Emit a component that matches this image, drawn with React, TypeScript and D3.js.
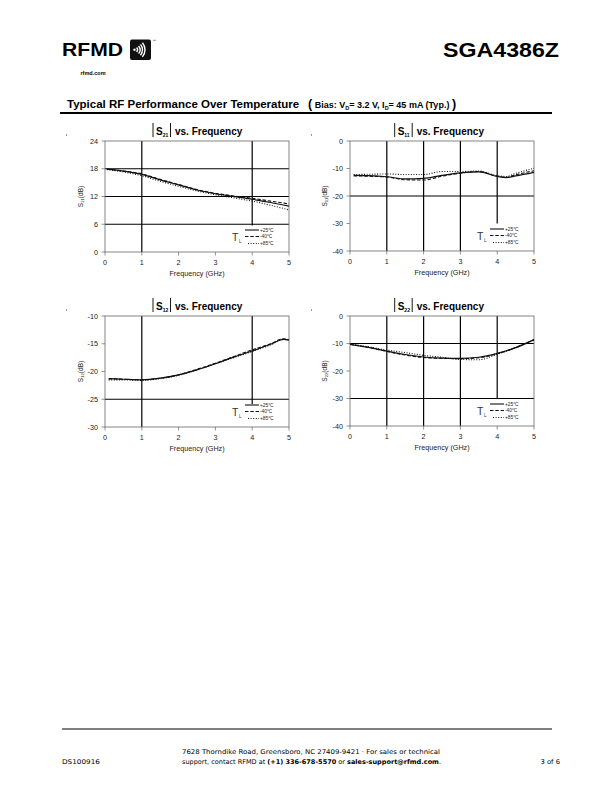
import React from "react";
import * as d3 from "d3";

// ---------- data ----------
const FREQ_S21 = [0.05, 0.5, 1, 1.5, 2, 2.5, 3, 3.5, 4, 4.5, 5];
const S21_P25 = [17.9, 17.5, 16.8, 15.6, 14.5, 13.4, 12.6, 12.0, 11.4, 10.7, 9.9];
const S21_M40 = [17.9, 17.5, 16.9, 15.7, 14.6, 13.5, 12.7, 12.1, 11.6, 11.0, 10.4];
const S21_P85 = [17.8, 17.3, 16.5, 15.3, 14.2, 13.2, 12.4, 11.7, 11.0, 10.1, 9.1];

const FREQ_S11 = [0.1, 0.5, 1, 1.5, 2, 2.5, 3, 3.5, 4, 4.25, 4.5, 5];
const S11_P25 = [-12.5, -12.6, -13.0, -13.8, -13.6, -12.5, -11.6, -11.2, -12.9, -13.3, -12.7, -11.4];
const S11_M40 = [-12.7, -12.8, -13.1, -14.1, -14.2, -12.8, -11.7, -11.1, -12.8, -13.2, -12.3, -10.8];
const S11_P85 = [-12.2, -12.1, -12.0, -12.2, -12.2, -11.1, -11.1, -10.9, -12.6, -12.9, -11.8, -9.9];

const FREQ_S12 = [0.1, 0.5, 1, 1.5, 2, 2.5, 3, 3.5, 4, 4.5, 4.85, 5];
const S12_P25 = [-21.3, -21.4, -21.5, -21.2, -20.6, -19.7, -18.6, -17.4, -16.3, -15.1, -14.2, -14.3];
const S12_M40 = [-21.3, -21.4, -21.5, -21.2, -20.6, -19.6, -18.5, -17.3, -16.1, -15.0, -14.1, -14.3];
const S12_P85 = [-21.5, -21.5, -21.6, -21.3, -20.7, -19.7, -18.6, -17.5, -16.4, -15.2, -14.2, -14.4];

const FREQ_S22 = [0, 0.5, 1, 1.5, 2, 2.5, 3, 3.5, 4, 4.5, 5];
const S22_P25 = [-10.3, -11.4, -12.8, -14.0, -14.9, -15.3, -15.4, -15.0, -13.6, -11.5, -8.6];
const S22_M40 = [-10.3, -11.4, -12.9, -14.2, -15.1, -15.4, -15.5, -15.2, -13.7, -11.5, -8.6];
const S22_P85 = [-10.2, -11.2, -12.4, -13.3, -14.3, -15.0, -15.8, -15.9, -13.9, -11.6, -8.8];

const X_TICKS = [0, 1, 2, 3, 4, 5];
const S21_TICKS = [0, 6, 12, 18, 24];
const S11_TICKS = [-40, -30, -20, -10, 0];
const S12_TICKS = [-30, -25, -20, -15, -10];
const S22_TICKS = [-40, -30, -20, -10, 0];
const LEGEND_LABELS = ["+25°C", "-40°C", "+85°C"];

const FONT = "'Liberation Sans', Arial, sans-serif";
const FOOT_FONT = "'DejaVu Sans', sans-serif";

type ChartProps = {
  left: number; top: number; w: number; h: number;
  yDomain: [number, number]; yTicks: number[];
  vGrid: number[]; hGrid: number[]; legendTop: number;
  freq: number[]; p25: number[]; m40: number[]; p85: number[];
  sub: string; bar1: number; ylabX: number;
};

function Chart(p: ChartProps) {
  const x = d3.scaleLinear().domain([0, 5]).range([p.left, p.left + p.w]);
  const y = d3.scaleLinear().domain(p.yDomain).range([p.top + p.h, p.top]);
  const mk = (vals: number[]) =>
    d3.line<number>()
      .x((_, i) => x(p.freq[i]))
      .y((d) => y(d))
      .curve(d3.curveMonotoneX)(vals) || "";
  const R = p.left + p.w;
  const B = p.top + p.h;
  const b1 = p.left + p.bar1;
  const b2 = b1 + 17.5;
  const rowY = [B - 22, B - 15.5, B - 8.5];
  const dashes = [undefined, "3.5,1.8", "1,1.6"];
  const lx1 = [R - 44, R - 44, R - 41];
  return (
    <g>
      <rect x={p.left - 39} y={p.top - 6.5} width={1} height={1} fill="#333" />
      {/* title */}
      <line x1={b1} x2={b1} y1={p.top - 18} y2={p.top - 4} stroke="#000" strokeWidth={0.9} />
      <line x1={b2} x2={b2} y1={p.top - 18} y2={p.top - 4} stroke="#000" strokeWidth={0.9} />
      <text x={b1 + 3} y={p.top - 6} fontFamily={FONT} fontWeight="bold" fontSize={10}>
        S<tspan fontSize={5} dy={1.5}>{p.sub}</tspan>
      </text>
      <text x={b2 + 4.5} y={p.top - 6} fontFamily={FONT} fontWeight="bold" fontSize={10}>
        vs. Frequency
      </text>
      {/* vertical grid */}
      {p.vGrid.map((v) => (
        <line key={"v" + v} x1={x(v)} x2={x(v)} y1={p.top} y2={B} stroke="#000" strokeWidth={1.2} />
      ))}
      {/* legend box */}
      <rect x={R - 62} y={p.legendTop} width={62} height={B - p.legendTop} fill="#fff" />
      {p.hGrid.map((v) => (
        <line key={"h" + v} x1={p.left} x2={R} y1={y(v)} y2={y(v)} stroke="#000" strokeWidth={1.2} />
      ))}
      {/* frame */}
      <rect x={p.left} y={p.top} width={p.w} height={p.h} fill="none" stroke="#666" strokeWidth={0.8} />
      {/* ticks */}
      {p.yTicks.map((t) => (
        <g key={"yt" + t}>
          <line x1={p.left - 3.5} x2={p.left} y1={y(t)} y2={y(t)} stroke="#666" strokeWidth={0.7} />
          <text x={p.left - 7} y={y(t) + 2.5} textAnchor="end" fontFamily={FONT} fontSize={7.2} fill="#222">{t}</text>
        </g>
      ))}
      {X_TICKS.map((t) => (
        <g key={"xt" + t}>
          <line x1={x(t)} x2={x(t)} y1={B} y2={B + 3.5} stroke="#666" strokeWidth={0.7} />
          <text x={x(t)} y={B + 12.5} textAnchor="middle" fontFamily={FONT} fontSize={7.2} fill="#222">{t}</text>
        </g>
      ))}
      <text x={(p.left + R) / 2} y={B + 23.5} textAnchor="middle" fontFamily={FONT} fontSize={7.2} fill="#222">
        Frequency (GHz)
      </text>
      <text transform={`translate(${p.ylabX},${(p.top + B) / 2}) rotate(-90)`} textAnchor="middle"
        fontFamily={FONT} fontSize={6.5} fill="#222">
        S<tspan fontSize={4.2} dy={1}>{p.sub}</tspan><tspan dy={-1}>(dB)</tspan>
      </text>
      {/* curves */}
      <path d={mk(p.p25)} fill="none" stroke="#111" strokeWidth={1.2} />
      <path d={mk(p.m40)} fill="none" stroke="#111" strokeWidth={1.1} strokeDasharray="3.5,1.8" />
      <path d={mk(p.p85)} fill="none" stroke="#111" strokeWidth={1.1} strokeDasharray="1,1.6" />
      {/* legend */}
      <text x={R - 57} y={B - 11} fontFamily={FONT} fontSize={10.5} fill="#333">T</text>
      <text x={R - 50} y={B - 9} fontFamily={FONT} fontSize={4.5} fill="#333">L</text>
      {LEGEND_LABELS.map((lab, i) => (
        <g key={lab}>
          <line x1={lx1[i]} x2={R - 30} y1={rowY[i]} y2={rowY[i]} stroke="#111" strokeWidth={1.1}
            strokeDasharray={dashes[i]} />
          <text x={R - 29} y={rowY[i] + 1.6} fontFamily={FONT} fontSize={4.8} fill="#222">{lab}</text>
        </g>
      ))}
    </g>
  );
}

export default function App() {
  return (
    <svg width={612} height={792} style={{ position: "absolute", left: 0, top: 0, background: "#fff" }}>
      {/* header */}
      <text x={62} y={55.5} fontFamily={FONT} fontWeight="bold" fontSize={17.5} textLength={61} lengthAdjust="spacingAndGlyphs">RFMD</text>
      <rect x={130} y={39.5} width={21} height={20.5} rx={2} fill="#111" />
      <circle cx={134.5} cy={49.8} r={1.2} fill="#fff" />
      {[3.5, 6, 8.5, 11].map((r, i) => (
        <path key={i} d={d3.arc()({ innerRadius: r - 0.7, outerRadius: r + 0.7, startAngle: Math.PI / 3.6, endAngle: Math.PI - Math.PI / 3.6 }) || ""}
          transform="translate(134,49.8)" fill="#fff" />
      ))}
      <text x={152.5} y={42} fontFamily={FONT} fontSize={3.5}>™</text>
      <text x={93} y={74.5} textAnchor="middle" fontFamily={FONT} fontWeight="bold" fontSize={5.5}>rfmd.com</text>
      <text x={559} y={56.5} textAnchor="end" fontFamily={FONT} fontWeight="bold" fontSize={20.5} textLength={116} lengthAdjust="spacingAndGlyphs">SGA4386Z</text>

      {/* section title */}
      <text x={67} y={108} fontFamily={FONT} fontWeight="bold" fontSize={11.5}>Typical RF Performance Over Temperature</text>
      <text x={308} y={108} fontFamily={FONT} fontWeight="bold" fontSize={9}>
        <tspan fontSize={12.5}>(</tspan>
        <tspan> Bias: V</tspan><tspan fontSize={5.5} dy={1.5}>D</tspan><tspan dy={-1.5}>= 3.2 V,  I</tspan>
        <tspan fontSize={5.5} dy={1.5}>D</tspan><tspan dy={-1.5}>= 45 mA (Typ.) </tspan>
        <tspan fontSize={12.5}>)</tspan>
      </text>
      <line x1={60} x2={552} y1={113} y2={113} stroke="#000" strokeWidth={2} />

      <Chart left={105} top={141} w={184} h={111} yDomain={[0, 24]} yTicks={S21_TICKS}
        vGrid={[1, 4]} hGrid={[6, 12, 18]} legendTop={225.5}
        freq={FREQ_S21} p25={S21_P25} m40={S21_M40} p85={S21_P85} sub="21" bar1={48} ylabX={83} />
      <Chart left={350} top={141} w={184} h={110} yDomain={[-40, 0]} yTicks={S11_TICKS}
        vGrid={[1, 2, 3, 4]} hGrid={[-20]} legendTop={223.5}
        freq={FREQ_S11} p25={S11_P25} m40={S11_M40} p85={S11_P85} sub="11" bar1={44.7} ylabX={327} />
      <Chart left={105} top={316} w={184} h={111} yDomain={[-30, -10]} yTicks={S12_TICKS}
        vGrid={[1, 4]} hGrid={[-25]} legendTop={404}
        freq={FREQ_S12} p25={S12_P25} m40={S12_M40} p85={S12_P85} sub="12" bar1={48} ylabX={83} />
      <Chart left={350} top={316} w={184} h={110} yDomain={[-40, 0]} yTicks={S22_TICKS}
        vGrid={[1, 2, 3, 4]} hGrid={[-10, -30]} legendTop={399}
        freq={FREQ_S22} p25={S22_P25} m40={S22_M40} p85={S22_P85} sub="22" bar1={44.7} ylabX={327} />

      {/* footer */}
      <line x1={62} x2={552} y1={729} y2={729} stroke="#000" strokeWidth={1} />
      <text x={62} y={764} fontFamily={FOOT_FONT} fontSize={6.5} textLength={38} lengthAdjust="spacingAndGlyphs">DS100916</text>
      <text x={182} y={754} fontFamily={FOOT_FONT} fontSize={6.5} textLength={258} lengthAdjust="spacingAndGlyphs">
        7628 Thorndike Road, Greensboro, NC  27409-9421 · For sales or technical
      </text>
      <text x={182} y={764} fontFamily={FOOT_FONT} fontSize={6.5} textLength={259} lengthAdjust="spacingAndGlyphs">
        support, contact RFMD at <tspan fontWeight="bold">(+1) 336-678-5570</tspan> or <tspan fontWeight="bold">sales-support@rfmd.com</tspan>.
      </text>
      <text x={560} y={764} textAnchor="end" fontFamily={FOOT_FONT} fontSize={6.8}>3 of 6</text>
    </svg>
  );
}
